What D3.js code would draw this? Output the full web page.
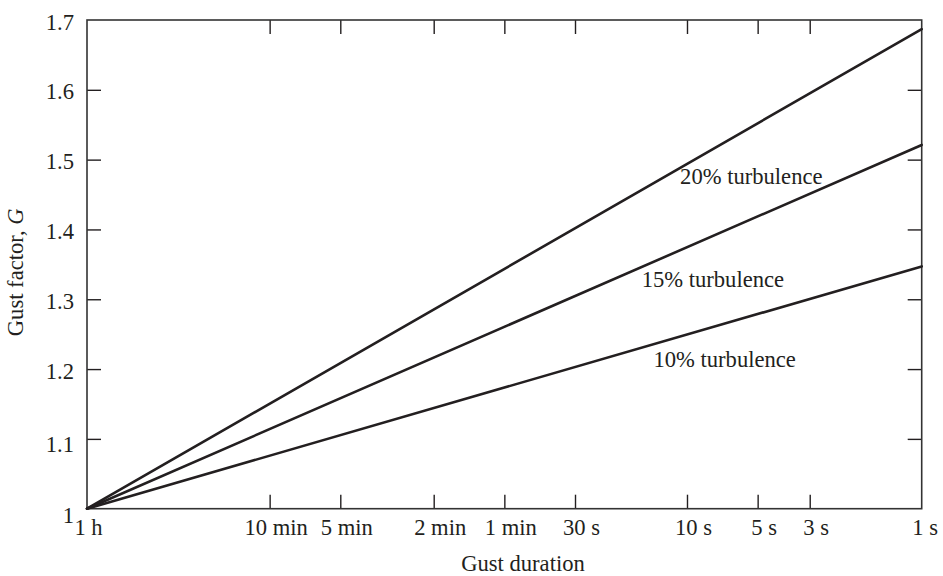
<!DOCTYPE html>
<html>
<head>
<meta charset="utf-8">
<script src="https://cdn.jsdelivr.net/npm/d3@7"></script>
<style>
  html, body { margin: 0; padding: 0; background: #fff; }
  svg { display: block; }
  text { font-family: "Liberation Serif", "Times New Roman", serif; fill: #231f20; }
</style>
</head>
<body>
<svg id="chart" width="943" height="576"></svg>
<script>
// ---- data ----
const durationSeconds = [3600, 600, 300, 120, 60, 30, 10, 5, 3, 1];
const durationLabels = ["1 h", "10 min", "5 min", "2 min", "1 min", "30 s", "10 s", "5 s", "3 s", "1 s"];
const gustTicks = [1.0, 1.1, 1.2, 1.3, 1.4, 1.5, 1.6, 1.7];
const gustTickLabels = ["1", "1.1", "1.2", "1.3", "1.4", "1.5", "1.6", "1.7"];
const seriesNames = ["20% turbulence", "15% turbulence", "10% turbulence"];
const startDuration = [3600, 3600, 3600];
const startG = [1.0, 1.0, 1.0];
const endDuration = [1, 1, 1];
const endG = [1.687, 1.521, 1.347];
const labelDuration = [10.7, 15.6, 13.9];
const labelG = [1.465, 1.317, 1.203];

// ---- layout ----
const W = 943, H = 576;
const margin = { top: 20, right: 21.3, bottom: 67.3, left: 87 };
const width = W - margin.left - margin.right;
const height = H - margin.top - margin.bottom;
const ink = "#231f20";
const fontSize = 22.6;

const svg = d3.select("#chart");
const g = svg.append("g").attr("transform", `translate(${margin.left},${margin.top})`);

const x = d3.scaleLog().domain([3600, 1]).range([0, width]);
const y = d3.scaleLinear().domain([1.0, 1.7]).range([height, 0]);

const tickLen = 14;
const interiorX = durationSeconds.slice(1, -1);
const interiorY = gustTicks.slice(1, -1);

// bottom axis (labels + inward ticks)
const xAxis = d3.axisBottom(x)
  .tickValues(durationSeconds)
  .tickFormat((d, i) => durationLabels[i])
  .tickSizeInner(-tickLen)
  .tickSizeOuter(0);
const gx = g.append("g").attr("transform", `translate(0,${height})`).call(xAxis);
gx.select(".domain").remove();
gx.selectAll(".tick line")
  .attr("stroke", ink).attr("stroke-width", 1.4)
  .attr("display", d => (d === 3600 || d === 1) ? "none" : null);
gx.selectAll(".tick text")
  .attr("y", 26.5).attr("dy", 0)
  .attr("dx", d => (d === 3600 ? 1 : d === 1 ? 3 : 6))
  .attr("font-size", fontSize).attr("font-family", null)
  .attr("fill", ink);

// top axis (ticks only)
const gxt = g.append("g").call(
  d3.axisTop(x).tickValues(interiorX).tickFormat("").tickSizeInner(-tickLen).tickSizeOuter(0));
gxt.select(".domain").remove();
gxt.selectAll(".tick line").attr("stroke", ink).attr("stroke-width", 1.4);

// left axis
const yAxis = d3.axisLeft(y)
  .tickValues(gustTicks)
  .tickFormat((d, i) => gustTickLabels[i])
  .tickSizeInner(-tickLen)
  .tickSizeOuter(0);
const gy = g.append("g").call(yAxis);
gy.select(".domain").remove();
gy.selectAll(".tick line")
  .attr("stroke", ink).attr("stroke-width", 1.4)
  .attr("display", d => (d === 1.0 || d === 1.7) ? "none" : null);
gy.selectAll(".tick text")
  .attr("x", -13).attr("dy", d => (d === 1.0 ? "0.6em" : d <= 1.15 ? "0.58em" : "0.4em"))
  .attr("font-size", fontSize).attr("font-family", null)
  .attr("fill", ink);

// right axis (ticks only)
const gyr = g.append("g").attr("transform", `translate(${width},0)`).call(
  d3.axisRight(y).tickValues(interiorY).tickFormat("").tickSizeInner(-tickLen).tickSizeOuter(0));
gyr.select(".domain").remove();
gyr.selectAll(".tick line").attr("stroke", ink).attr("stroke-width", 1.4);

// frame
g.append("rect")
  .attr("x", 0).attr("y", 0).attr("width", width).attr("height", height)
  .attr("fill", "none").attr("stroke", "#333").attr("stroke-width", 1.6);

// series lines
const series = seriesNames.map((name, i) => ({
  name,
  points: [
    { t: startDuration[i], gf: startG[i] },
    { t: endDuration[i], gf: endG[i] }
  ],
  lt: labelDuration[i],
  lg: labelG[i]
}));

const line = d3.line().x(d => x(d.t)).y(d => y(d.gf));
g.selectAll("path.series")
  .data(series)
  .join("path")
  .attr("class", "series")
  .attr("d", d => line(d.points))
  .attr("fill", "none")
  .attr("stroke", ink)
  .attr("stroke-width", 2.6)
  .attr("stroke-linecap", "round");

// series labels
g.selectAll("text.slabel")
  .data(series)
  .join("text")
  .attr("class", "slabel")
  .attr("x", d => x(d.lt))
  .attr("y", d => y(d.lg))
  .attr("font-size", fontSize)
  .text(d => d.name);

// axis titles
svg.append("text")
  .attr("x", 523)
  .attr("y", 571)
  .attr("text-anchor", "middle")
  .attr("font-size", fontSize)
  .text("Gust duration");

const yt = svg.append("text")
  .attr("transform", `translate(23,${margin.top + height / 2 + 8}) rotate(-90)`)
  .attr("text-anchor", "middle")
  .attr("font-size", fontSize);
yt.append("tspan").text("Gust factor, ");
yt.append("tspan").attr("font-style", "italic").text("G");
</script>
</body>
</html>
